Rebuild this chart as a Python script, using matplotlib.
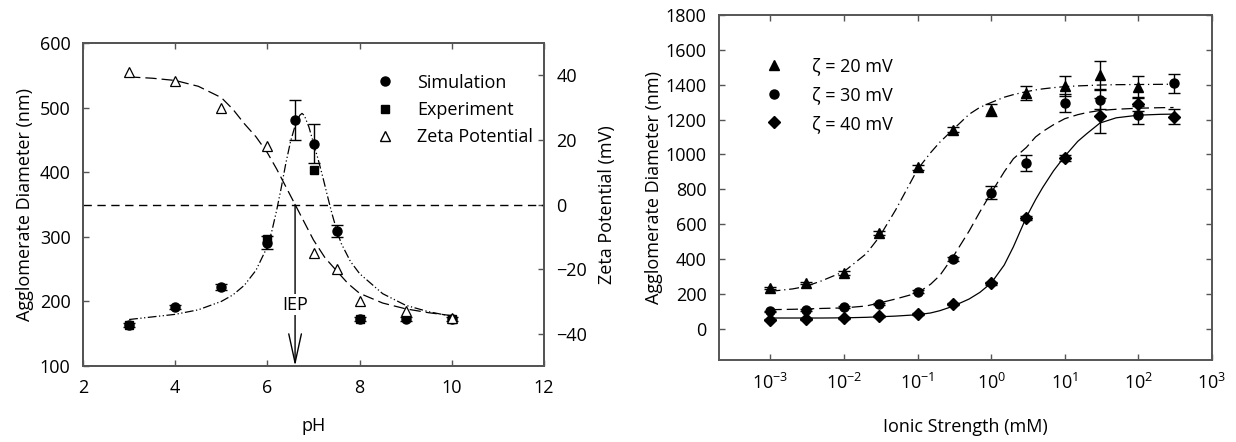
import matplotlib
matplotlib.use('Agg')
import matplotlib.pyplot as plt
from matplotlib.lines import Line2D
import matplotlib.ticker as ticker

plt.rcParams['font.family'] = ['Open Sans', 'DejaVu Sans']
plt.rcParams['font.size'] = 13
plt.rcParams['mathtext.fontset'] = 'custom'
plt.rcParams['mathtext.rm'] = 'Open Sans'

# ---- left panel: pH data ----
ph_sim = [3, 4, 5, 6, 6.6, 7, 7.5, 8, 9, 10]
d_sim = [164, 191, 222, 291, 481, 444, 309, 173, 173, 173]
d_sim_err = [3, 3, 5, 10, 31, 30, 10, 3, 3, 3]

ph_exp = [3, 6, 7, 8, 10]
d_exp = [164, 297, 403, 173, 173]

ph_zeta = [3, 4, 5, 6, 7, 7.5, 8, 9, 10]
zeta = [41.0, 38.1, 30.0, 18.0, -15.0, -19.9, -29.9, -32.9, -35.1]

# fitted curves
ph_sim_fit = [3, 3.5, 4, 4.5, 5, 5.25, 5.5, 5.75, 6, 6.1, 6.2, 6.3, 6.4, 6.5, 6.6,
              6.7, 6.75, 6.8, 6.9, 7, 7.1, 7.2, 7.3, 7.4, 7.5, 7.6, 7.8, 8, 8.5, 9, 9.5, 10]
d_sim_fit = [172, 176, 180, 187, 200, 210, 225, 248, 285, 310, 341, 376, 414, 447, 472,
             488, 491, 488, 470, 445, 420, 393, 364, 336, 311, 290, 262, 243, 212, 194, 184, 177]

ph_zeta_fit = [3, 3.5, 4, 4.5, 5, 5.25, 5.5, 5.75, 6, 6.2, 6.4, 6.6, 6.8, 7, 7.25, 7.5,
               7.75, 8, 8.5, 9, 9.5, 10]
zeta_fit = [39.5, 39.1, 38.4, 36.6, 33.1, 29.5, 25.0, 21.0, 16.0, 11.0, 5.5, 0.0, -5.5,
            -11.0, -16.5, -20.5, -24.5, -27.5, -30.5, -32.3, -33.5, -34.4]

iep_ph = 6.6

# ---- right panel: ionic strength data ----
ionic = [1e-3, 3e-3, 1e-2, 3e-2, 1e-1, 3e-1, 1, 3, 10, 30, 100, 300]

d20 = [233, 262, 319, 549, 925, 1141, 1255, 1351, 1393, 1456, 1386]
d20_err = [8, 8, 10, 10, 12, 15, 35, 40, 58, 78, 62]
d30 = [99, 105, 122, 141, 212, 401, 781, 950, 1297, 1313, 1227, 1408]
d30_err = [5, 5, 6, 6, 8, 10, 37, 47, 52, 55, 53, 55]
d40 = [52, 56, 61, 71, 84, 141, 260, 635, 979, 1223, 1288, 1217]
d40_err = [4, 4, 4, 4, 5, 6, 8, 10, 15, 100, 40, 45]

ionic_fit = [1e-3, 2e-3, 3e-3, 5e-3, 1e-2, 2e-2, 3e-2, 5e-2, 1e-1, 0.15, 2e-1, 3e-1,
             5e-1, 0.7, 1, 1.5, 2, 3, 4, 5, 7, 10, 15, 20, 30, 50, 100, 200, 300]
d20_fit = [214, 228, 242, 275, 328, 430, 525, 680, 915, 1010, 1070, 1141,
           1230, 1270, 1298, 1328, 1343, 1360, 1370, 1376, 1383, 1389, 1393, 1395,
           1398, 1400, 1401, 1402, 1403]
d30_fit = [109, 111, 113, 116, 119, 130, 147, 170, 205, 255, 305, 410,
           560, 670, 780, 900, 975, 1040, 1100, 1131, 1170, 1205, 1228, 1240,
           1252, 1259, 1265, 1268, 1269]
d40_fit = [61, 61, 61, 61, 62, 65, 68, 72, 80, 90, 103, 128,
           170, 208, 262, 365, 470, 640, 740, 810, 905, 990, 1075, 1120,
           1180, 1210, 1225, 1230, 1231]

spine_color = '#555555'


def style_axis(ax):
    for s in ax.spines.values():
        s.set_color(spine_color)
        s.set_linewidth(1.4)
    ax.tick_params(direction='in', length=4, width=1, color=spine_color,
                   pad=9, labelsize=13)


fig = plt.figure(figsize=(12.36, 4.42), dpi=100)

# left panel
ax1 = fig.add_axes([0.0672, 0.1719, 0.3729, 0.7308])
ax1b = ax1.twinx()

ax1.plot(ph_sim_fit, d_sim_fit, color='black', lw=0.9, dashes=(7, 2, 1, 2, 1, 2))
ax1.errorbar(ph_sim, d_sim, yerr=d_sim_err, fmt='o', color='black', ms=6.5,
             capsize=4, elinewidth=1, capthick=1, zorder=4)
ax1.plot(ph_exp, d_exp, 's', color='black', ms=5.8, zorder=4)

ax1b.plot(ph_zeta_fit, zeta_fit, color='black', lw=0.9, dashes=(9, 4))
ax1b.plot(ph_zeta, zeta, '^', mfc='white', mec='black', mew=0.9, ms=7)
ax1b.axhline(0, color='black', lw=1, dashes=(6, 4))
ax1b.annotate('', xy=(iep_ph, -50), xytext=(iep_ph, 0),
              arrowprops=dict(arrowstyle='->,head_length=1.6,head_width=0.35',
                              color='black', lw=1, shrinkA=0, shrinkB=0))
ax1b.text(iep_ph, -31, 'IEP', ha='center', va='center', fontsize=13,
          bbox=dict(facecolor='white', edgecolor='none', pad=1))

ax1.set_xlim(2, 12)
ax1.set_ylim(100, 600)
ax1b.set_ylim(-50, 50)
ax1.set_xticks([2, 4, 6, 8, 10, 12])
ax1.set_yticks([100, 200, 300, 400, 500, 600])
ax1b.set_yticks([-40, -20, 0, 20, 40])
ax1.tick_params(top=True)
style_axis(ax1)
style_axis(ax1b)
ax1.set_xlabel('pH', labelpad=15)
ax1.set_ylabel('Agglomerate Diameter (nm)', labelpad=4)
ax1b.set_ylabel('Zeta Potential (mV)', labelpad=8)

handles1 = [Line2D([], [], ls='none', marker='o', color='black', ms=6.5),
            Line2D([], [], ls='none', marker='s', color='black', ms=5.8),
            Line2D([], [], ls='none', marker='^', mfc='white', mec='black', ms=7)]
ax1b.legend(handles1, ['Simulation', 'Experiment', 'Zeta Potential'],
            loc='upper left', bbox_to_anchor=(0.6, 0.955), frameon=False,
            handlelength=1.0, handletextpad=1.3, labelspacing=0.5, fontsize=13)

# right panel
ax2 = fig.add_axes([0.5817, 0.1855, 0.3989, 0.7806])
ax2.set_xscale('log')

ax2.plot(ionic_fit, d20_fit, color='black', lw=0.9, dashes=(8, 3, 1, 3))
ax2.plot(ionic_fit, d30_fit, color='black', lw=0.9, dashes=(9, 4))
ax2.plot(ionic_fit, d40_fit, color='black', lw=0.9)

ax2.errorbar(ionic[:len(d20)], d20, yerr=d20_err, fmt='^', color='black', ms=6.5,
             capsize=4, elinewidth=1, capthick=1, label='ζ = 20 mV')
ax2.errorbar(ionic, d30, yerr=d30_err, fmt='o', color='black', ms=6.5,
             capsize=4, elinewidth=1, capthick=1, label='ζ = 30 mV')
ax2.errorbar(ionic, d40, yerr=d40_err, fmt='D', color='black', ms=5.8,
             capsize=4, elinewidth=1, capthick=1, label='ζ = 40 mV')

ax2.set_xlim(10 ** -3.7, 1e3)
ax2.set_ylim(-180, 1800)
ax2.set_xticks([1e-3, 1e-2, 1e-1, 1, 10, 100, 1000])
ax2.set_xticklabels(['$10^{-3}$', '$10^{-2}$', '$10^{-1}$', '$10^{0}$',
                     '$10^{1}$', '$10^{2}$', '$10^{3}$'])
ax2.xaxis.set_minor_locator(ticker.NullLocator())
ax2.set_yticks(range(0, 1801, 200))
ax2.tick_params(top=True, right=True)
style_axis(ax2)
ax2.set_xlabel('Ionic Strength (mM)', labelpad=18)
ax2.set_ylabel('Agglomerate Diameter (nm)', labelpad=2)

h2, l2 = ax2.get_legend_handles_labels()
h2 = [h[0] for h in h2]
ax2.legend(h2, l2, loc='upper left', bbox_to_anchor=(0.06, 0.925), frameon=False,
           handlelength=1.0, handletextpad=1.6, labelspacing=0.6, fontsize=13)

fig.savefig('out.png', dpi=100)
